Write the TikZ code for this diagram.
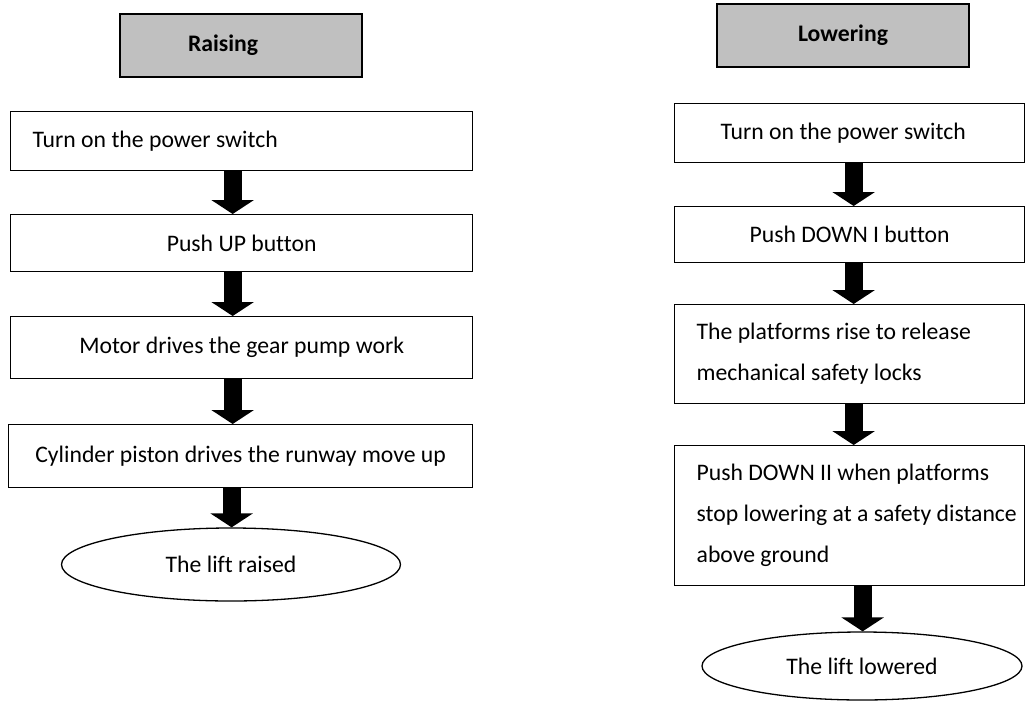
\documentclass[tikz,border=0pt]{standalone}
\usepackage{fontspec}
\setmainfont{Carlito}[Ligatures=NoCommon]
\usetikzlibrary{shapes.geometric,arrows.meta}
\definecolor{headgray}{HTML}{C0C0C0}
\newcommand\flowfont{\fontsize{23.7}{41}\selectfont}

\begin{document}
\begin{tikzpicture}[
  x=1pt, y=-1pt,
  head/.style={draw=black, line width=2pt, fill=headgray, inner ysep=0pt, minimum height=63pt, font=\flowfont\bfseries, anchor=north west},
  stepbox/.style={draw=black, line width=1.3pt, inner ysep=0pt, font=\flowfont, anchor=north west},
  fin/.style={ellipse, draw=black, line width=1.3pt, inner sep=0pt, font=\flowfont},
  blk/.style={line width=18pt, draw=black, -{Triangle[width=42pt,length=14pt]}}
]
\useasboundingbox (0,0) rectangle (1029,702);

% --- Raising ---
\node[head, text width=106pt, inner xsep=68pt, align=flush left] (r0) at (119,13) {Raising};
\node[stepbox, minimum height=59pt, text width=418pt, inner xsep=22pt, align=flush left] (r1) at (10,111) {Turn on the power switch};
\node[stepbox, minimum height=57pt, text width=418pt, inner xsep=22pt, align=flush center] (r2) at (10,214) {Push UP button};
\node[stepbox, minimum height=62pt, text width=418pt, inner xsep=22pt, align=flush center] (r3) at (10,316) {Motor drives the gear pump work};
\node[stepbox, minimum height=63pt, text width=448pt, inner xsep=8pt, align=flush center] (r4) at (8,424) {Cylinder piston drives the runway move up};
\node[fin, minimum width=339pt, minimum height=73pt] (r5) at (231,564.5) {The lift raised};

% --- Lowering ---
\node[head, minimum width=252pt, align=center] (l0) at (716,3) {Lowering};
\node[stepbox, minimum height=59pt, text width=258pt, inner xsep=46pt, align=flush left] (l1) at (674,103) {Turn on the power switch};
\node[stepbox, minimum height=56pt, text width=306pt, inner xsep=22pt, align=flush center] (l2) at (674,206) {Push DOWN I button};
\node[stepbox, minimum height=99pt, text width=306pt, inner xsep=22pt, align=flush left] (l3) at (674,304) {The platforms rise to release\\mechanical safety locks};
\node[stepbox, minimum height=140pt, text width=306pt, inner xsep=22pt, align=flush left] (l4) at (674,445) {Push DOWN II when platforms\\\mbox{stop lowering at a safety distance}\\above ground};
\node[fin, minimum width=320pt, minimum height=68pt] (l5) at (862,666) {The lift lowered};

% --- Arrows ---
\foreach \a/\b in {r1/r2, r2/r3, r3/r4, r4/r5}
  \draw[blk] ([xshift=-9pt]\a.south) -- ([xshift=-9pt]\a.south |- \b.north);
\foreach \a/\b in {l1/l2, l2/l3, l3/l4}
  \draw[blk] ([xshift=4pt]\a.south) -- ([xshift=4pt]\a.south |- \b.north);
\draw[blk] ([xshift=13pt]l4.south) -- ([xshift=13pt]l4.south |- l5.north);

\end{tikzpicture}
\end{document}
